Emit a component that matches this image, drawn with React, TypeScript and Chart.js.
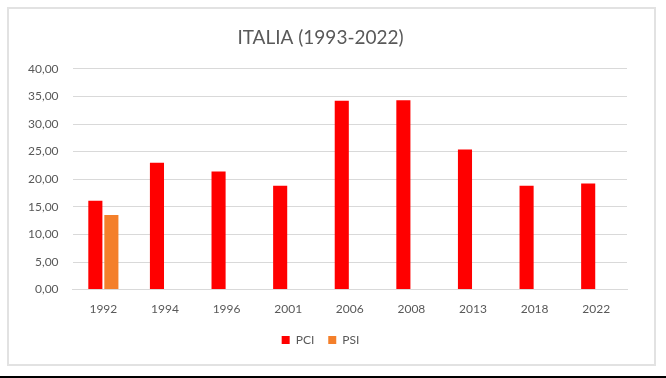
import React, { useEffect, useRef } from "react";
import { Chart, registerables } from "chart.js";

Chart.register(...registerables);

const categories = ["1992", "1994", "1996", "2001", "2006", "2008", "2013", "2018", "2022"];
const pciValues = [16.1, 23.0, 21.4, 18.8, 34.2, 34.3, 25.4, 18.8, 19.2];
const psiValues: (number | null)[] = [13.5, null, null, null, null, null, null, null, null];
const titleText = "ITALIA (1993-2022)";

export default function App() {
  const ref = useRef<HTMLCanvasElement | null>(null);
  useEffect(() => {
    document.body.style.margin = "0";
    const ctx = ref.current!;
    const chart = new Chart(ctx, {
      type: "bar",
      data: {
        labels: categories,
        datasets: [
          { label: "PCI", data: pciValues, backgroundColor: "#ff0000", categoryPercentage: 0.52, barPercentage: 0.88 },
          { label: "PSI", data: psiValues, backgroundColor: "#f47f2a", categoryPercentage: 0.52, barPercentage: 0.88 },
        ],
      },
      options: {
        animation: false,
        responsive: false,
        maintainAspectRatio: false,
        layout: { padding: { left: 14, right: 39, top: 26, bottom: 22 } },
        plugins: {
          title: {
            display: true,
            text: titleText,
            color: "#595959",
            font: { family: "Lato, 'Open Sans', sans-serif", size: 19, weight: "normal" },
            padding: { top: 0, bottom: 20 },
          },
          legend: {
            position: "bottom",
            labels: {
              color: "#595959",
              boxWidth: 8,
              boxHeight: 8,
              padding: 14,
              font: { family: "Lato, 'Open Sans', sans-serif", size: 12 },
            },
          },
          tooltip: { enabled: false },
        },
        scales: {
          x: {
            grid: { display: false },
            border: { display: true, color: "#d9d9d9" },
            ticks: { color: "#595959", font: { family: "Lato, 'Open Sans', sans-serif", size: 12 }, padding: 4 },
          },
          y: {
            min: 0,
            max: 40,
            border: { display: false },
            grid: { color: "#d9d9d9", drawTicks: false },
            ticks: {
              stepSize: 5,
              color: "#595959",
              padding: 14,
              font: { family: "Lato, 'Open Sans', sans-serif", size: 12 },
              callback: (v: any) => Number(v).toFixed(2).replace(".", ","),
            },
          },
        },
      },
    });
    return () => chart.destroy();
  }, []);
  return (
    <div style={{ position: "fixed", left: 0, top: 0, width: 666, height: 378, background: "#fff", overflow: "hidden" }}>
      <div style={{ position: "absolute", left: 0, top: 376, width: 666, height: 2, background: "#000" }} />
      <div style={{ position: "absolute", left: 7, top: 7, width: 645, height: 355, border: "2px solid #e2e2e2" }} />
      <canvas ref={ref} width={666} height={378} style={{ position: "absolute", left: 0, top: 0 }} />
    </div>
  );
}
